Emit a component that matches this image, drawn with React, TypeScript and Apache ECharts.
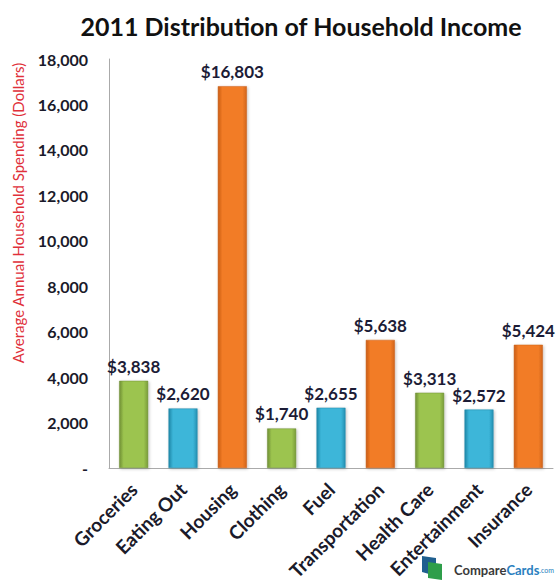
import React, { useEffect, useRef } from "react";
import * as echarts from "echarts";

const categories = [
  "Groceries",
  "Eating Out",
  "Housing",
  "Clothing",
  "Fuel",
  "Transportation",
  "Health Care",
  "Entertainment",
  "Insurance",
];
const spending = [3838, 2620, 16803, 1740, 2655, 5638, 3313, 2572, 5424];
const colorKeys = ["green", "blue", "orange", "green", "blue", "orange", "green", "blue", "orange"];

const palette: Record<string, [string, string, string]> = {
  green: ["#6f8f34", "#9cc44f", "#7a9c3a"],
  blue: ["#1f86a6", "#3cb6d9", "#2690b2"],
  orange: ["#c95c14", "#f27c28", "#d2661a"],
};

function barColor(key: string) {
  const [edge, mid, edge2] = palette[key];
  return new echarts.graphic.LinearGradient(0, 0, 1, 0, [
    { offset: 0, color: edge },
    { offset: 0.15, color: mid },
    { offset: 0.85, color: mid },
    { offset: 1, color: edge2 },
  ]);
}

export default function App() {
  const ref = useRef<HTMLDivElement>(null);
  useEffect(() => {
    document.body.style.margin = "0";
    if (!ref.current) return;
    const chart = echarts.init(ref.current, null, { renderer: "svg" });
    const font = "Lato";
    chart.setOption({
      animation: false,
      backgroundColor: "#ffffff",
      grid: { left: 109, right: 7, top: 59, bottom: 115 },
      graphic: [
        {
          type: "text",
          x: 301,
          y: 26,
          style: {
            text: "2011 Distribution of Household Income",
            font: `bold 25px ${font}`,
            fill: "#111111",
            align: "center",
            verticalAlign: "middle",
          },
        },
        {
          type: "text",
          x: 18,
          y: 213,
          rotation: Math.PI / 2,
          style: {
            text: "Average Annual Household Spending (Dollars)",
            font: `15px ${font}`,
            fill: "#e0303a",
            align: "center",
            verticalAlign: "middle",
          },
        },
        {
          type: "group",
          x: 422,
          y: 556,
          children: [
            { type: "polygon", shape: { points: [[0, 0], [14, 2], [14, 20], [0, 16]] }, style: { fill: "#1f5f8f" } },
            { type: "polygon", shape: { points: [[6, 6], [20, 8], [20, 24], [6, 22]] }, style: { fill: "#2e9e4a" } },
          ],
        },
        {
          type: "text",
          x: 454,
          y: 570,
          style: {
            rich: {
              a: { font: `bold 13px ${font}`, fill: "#3a3a3a" },
              b: { font: `bold 13px ${font}`, fill: "#2a7fc0" },
              c: { font: `7px ${font}`, fill: "#2a7fc0" },
            },
            text: "{a|Compare}{b|Cards}{c|.com}",
            verticalAlign: "middle",
          },
        },
      ],
      xAxis: {
        type: "category",
        data: categories,
        axisLine: { show: true, lineStyle: { color: "#aaaaaa", width: 1 } },
        axisTick: { show: false },
        axisLabel: {
          rotate: 45,
          interval: 0,
          margin: 18,
          fontFamily: font,
          fontWeight: "bold",
          fontSize: 19,
          color: "#1a1a2a",
        },
      },
      yAxis: {
        type: "value",
        min: 0,
        max: 18000,
        interval: 2000,
        axisLine: { show: true, lineStyle: { color: "#aaaaaa", width: 1 } },
        axisTick: { show: false },
        splitLine: { show: false },
        axisLabel: {
          margin: 21,
          fontFamily: font,
          fontWeight: "bold",
          fontSize: 16,
          color: "#1a1a2a",
          formatter: (v: number) => (v === 0 ? "-" : v.toLocaleString("en-US")),
        },
      },
      series: [
        {
          type: "bar",
          barWidth: 29,
          data: spending.map((v, i) => ({
            value: v,
            itemStyle: {
              color: barColor(colorKeys[i]),
              borderColor: palette[colorKeys[i]][0],
              borderWidth: 0.5,
              shadowColor: "rgba(0,0,0,0.25)",
              shadowBlur: 3,
              shadowOffsetX: 1,
              shadowOffsetY: 1,
            },
          })),
          label: {
            show: true,
            position: "top",
            distance: 6,
            fontFamily: font,
            fontWeight: "bold",
            fontSize: 17,
            color: "#1c1c36",
            formatter: (p: any) => "$" + Number(p.value).toLocaleString("en-US"),
          },
        },
      ],
    });
    return () => chart.dispose();
  }, []);
  return <div ref={ref} style={{ width: 560, height: 583 }} />;
}
